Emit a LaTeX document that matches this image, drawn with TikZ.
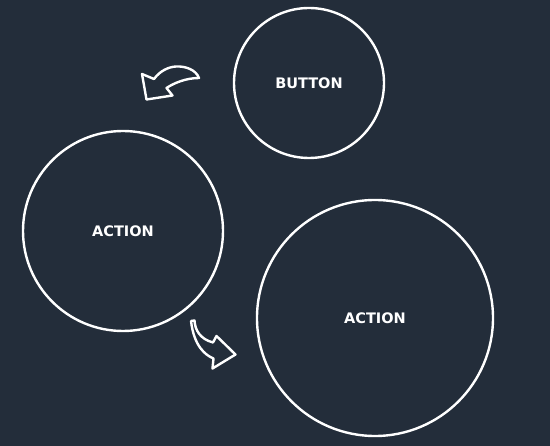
\documentclass[tikz,border=0pt]{standalone}
\usepackage{fontspec}
\setmainfont{DejaVu Sans}
\definecolor{bg}{HTML}{232D3A}
\tikzset{
  bubble/.style={draw=white, line width=2.4pt, circle, inner sep=0pt, text=white, font=\bfseries\fontsize{14.5}{16}\selectfont},
  sketcharrow/.style={draw=white, line width=2.4pt, line join=round, line cap=round}
}
\begin{document}
\begin{tikzpicture}[x=1pt,y=-1pt]
\fill[bg] (0,0) rectangle (550,446);
\useasboundingbox (0,0) rectangle (550,446);
\node[bubble, minimum size=150pt] (button) at (309,83) {BUTTON};
\node[bubble, minimum size=200pt] (action1) at (123,231) {ACTION};
\node[bubble, minimum size=236pt] (action2) at (375,318) {ACTION};
% curved arrow near button
\draw[sketcharrow] (142,74) -- (146.5,99.5) -- (172.5,95.5) -- (166.5,88)
  .. controls (174,83) and (186,78) .. (199,78)
  .. controls (196,70) and (186,66) .. (176,66.5)
  .. controls (168,67) and (160,71) .. (154,79) -- cycle;
% curved arrow near first action
\draw[sketcharrow] (191,321) -- (194.5,320.5)
  .. controls (195,330) and (200,339) .. (213,342.5)
  -- (216.5,336) -- (235.5,354.5) -- (212.5,368.5) -- (213.5,358.5)
  .. controls (205,355) and (194,346) .. (191,321) -- cycle;
\end{tikzpicture}
\end{document}
